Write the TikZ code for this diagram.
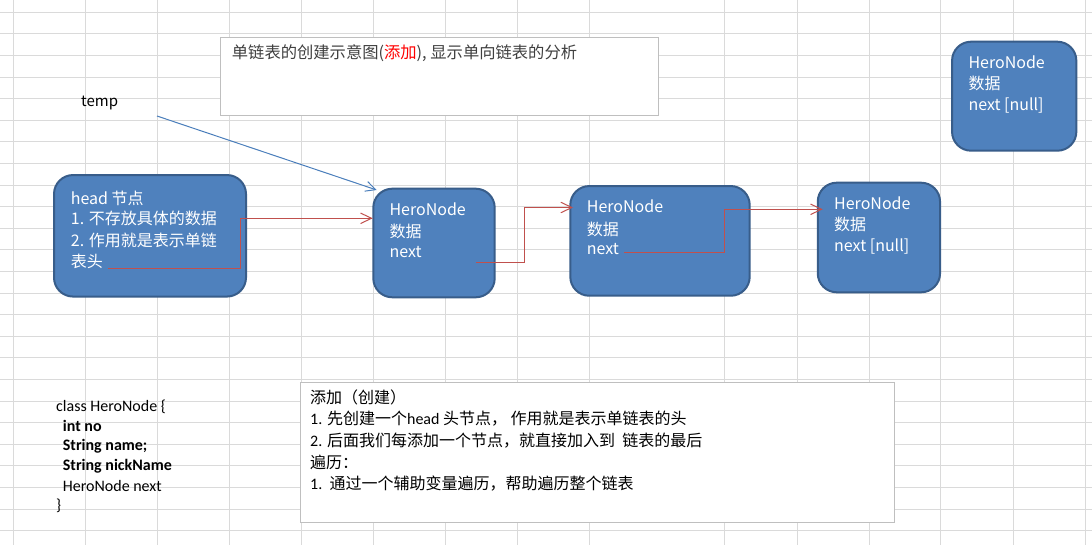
\documentclass[tikz,border=0pt]{standalone}
\usepackage{fontspec}
\setmainfont{Carlito}
\newfontfamily\cjk{Noto Sans CJK SC}
\usetikzlibrary{arrows.meta}
\definecolor{gridc}{HTML}{DADADA}
\definecolor{nodefill}{HTML}{4F81BD}
\definecolor{nodeedge}{HTML}{385D8A}
\definecolor{linkred}{HTML}{C0504D}
\definecolor{linkblue}{HTML}{4A7EBB}
\definecolor{boxedge}{HTML}{BFBFBF}
\definecolor{titletext}{HTML}{404040}
\definecolor{addred}{HTML}{FF0000}
\begin{document}
\begin{tikzpicture}[x=1pt,y=-1pt,
  gridline/.style={draw=gridc, line width=1pt},
  heronode/.style={draw=nodeedge, fill=nodefill, line width=2pt, rounded corners=19pt, inner sep=0pt},
  notebox/.style={draw=boxedge, fill=white, line width=1pt, inner sep=0pt},
  nodetext/.style={anchor=west, inner sep=0pt, text=white, font=\cjk\fontsize{16}{19}\selectfont},
  titletxt/.style={anchor=west, inner sep=0pt, text=titletext, font=\cjk\fontsize{16.3}{19}\selectfont},
  codetxt/.style={anchor=west, inner sep=0pt, text=black, font=\fontsize{16}{19}\selectfont},
  notetxt/.style={anchor=west, inner sep=0pt, text=black, font=\cjk\fontsize{16}{19}\selectfont},
  redlink/.style={draw=linkred, line width=1pt, -{Straight Barb[length=11pt,width=10.5pt]}},
  bluelink/.style={draw=linkblue, line width=1pt, -{Straight Barb[length=10pt,width=10pt]}}
]
\useasboundingbox (0,0) rectangle (1092,545);
\fill[white] (0,0) rectangle (1092,545);
% spreadsheet grid
\foreach \gx in {13,85.5,157,229,301.5,373.5,445.5,517.5,589.5,724.5,797,869,940,1013,1085}
  \draw[gridline] (\gx,0) -- (\gx,545);
\foreach \k in {0,...,24}
  \draw[gridline] (0,{12.3+21.6*\k}) -- (1092,{12.3+21.6*\k});

% title box
\node[notebox, minimum width=438pt, minimum height=78pt] (title) at (439.6,76.3) {};
\node[titletxt] (titletext) at (231.7,53.3) {单链表的创建示意图(\textcolor{addred}{添加}), 显示单向链表的分析};

% temp label
\node[anchor=west, inner sep=0pt, font=\cjk\fontsize{15}{18}\selectfont] (temp) at (81,102.7) {temp};

% head node
\node[heronode, minimum width=192pt, minimum height=121.5pt] (head) at (150,235.8) {};
\node[nodetext] (hd1) at (70.7,198.3) {head 节点};
\node[nodetext] (hd2) at (70.7,218.3) {1. 不存放具体的数据};
\node[nodetext] (hd3) at (70.7,240) {2. 作用就是表示单链};
\node[nodetext] (hd4) at (70.7,261.7) {表头};

% node 1
\node[heronode, minimum width=121.4pt, minimum height=108.6pt] (n1) at (434,243) {};
\node[nodetext] (n1a) at (389.3,209.3) {HeroNode};
\node[nodetext] (n1b) at (389.3,231) {数据};
\node[nodetext] (n1c) at (389.3,251.7) {next};

% node 2
\node[heronode, minimum width=179.4pt, minimum height=109.7pt] (n2) at (660,240.9) {};
\node[nodetext] (n2a) at (586.7,206.7) {HeroNode};
\node[nodetext] (n2b) at (586.7,229.3) {数据};
\node[nodetext] (n2c) at (586.7,249.3) {next};

% node 3
\node[heronode, minimum width=122.3pt, minimum height=109.6pt] (n3) at (878.9,237.5) {};
\node[nodetext] (n3a) at (834,203.3) {HeroNode};
\node[nodetext] (n3b) at (834,224.3) {数据};
\node[nodetext] (n3c) at (834,246) {next [null]};

% node 4 (top right)
\node[heronode, minimum width=124.3pt, minimum height=109pt] (n4) at (1014.2,96.2) {};
\node[nodetext] (n4a) at (968.3,62.7) {HeroNode};
\node[nodetext] (n4b) at (968.3,83.3) {数据};
\node[nodetext] (n4c) at (968.3,105.7) {next [null]};

% connectors
\coordinate (tempstart) at (157,116);
\coordinate (tempend) at (376.7,190);
\draw[bluelink] (tempstart) -- (tempend);

\coordinate (headnext) at (108.3,269);
\coordinate (n1in) at (372.7,218.3);
\draw[redlink] (headnext) -- (240.7,269) -- (240.7,218.3) -- (n1in);

\coordinate (n1next) at (476,262.7);
\coordinate (n2in) at (573,207.5);
\draw[redlink] (n1next) -- (524.3,262.7) -- (524.3,207.5) -- (n2in);

\coordinate (n2next) at (624.3,252.3);
\coordinate (n3in) at (822.7,209.3);
\draw[redlink] (n2next) -- (724,252.3) -- (724,209.3) -- (n3in);

% class code
\node[codetxt] (cl1) at (56,406.7) {class HeroNode \{};
\node[codetxt] (cl2) at (62.7,426) {\bfseries int no};
\node[codetxt] (cl3) at (62.7,446) {\bfseries String name;};
\node[codetxt] (cl4) at (62.7,466) {\bfseries String nickName};
\node[codetxt] (cl5) at (62.7,486) {HeroNode next};
\node[codetxt] (cl6) at (56,506) {\}};

% bottom note box
\node[notebox, minimum width=594.3pt, minimum height=140pt] (note) at (597.2,452.6) {};
\node[notetxt] (nt1) at (310,397) {添加（创建）};
\node[notetxt] (nt2) at (310,419) {{\rmfamily 1.} 先创建一个{\rmfamily head} 头节点， 作用就是表示单链表的头};
\node[notetxt] (nt3) at (310,441) {{\rmfamily 2.} 后面我们每添加一个节点，就直接加入到\ \ 链表的最后};
\node[notetxt] (nt4) at (310,462) {遍历：};
\node[notetxt] (nt5) at (310,484) {{\rmfamily 1.}\ \ 通过一个辅助变量遍历，帮助遍历整个链表};
\end{tikzpicture}
\end{document}
